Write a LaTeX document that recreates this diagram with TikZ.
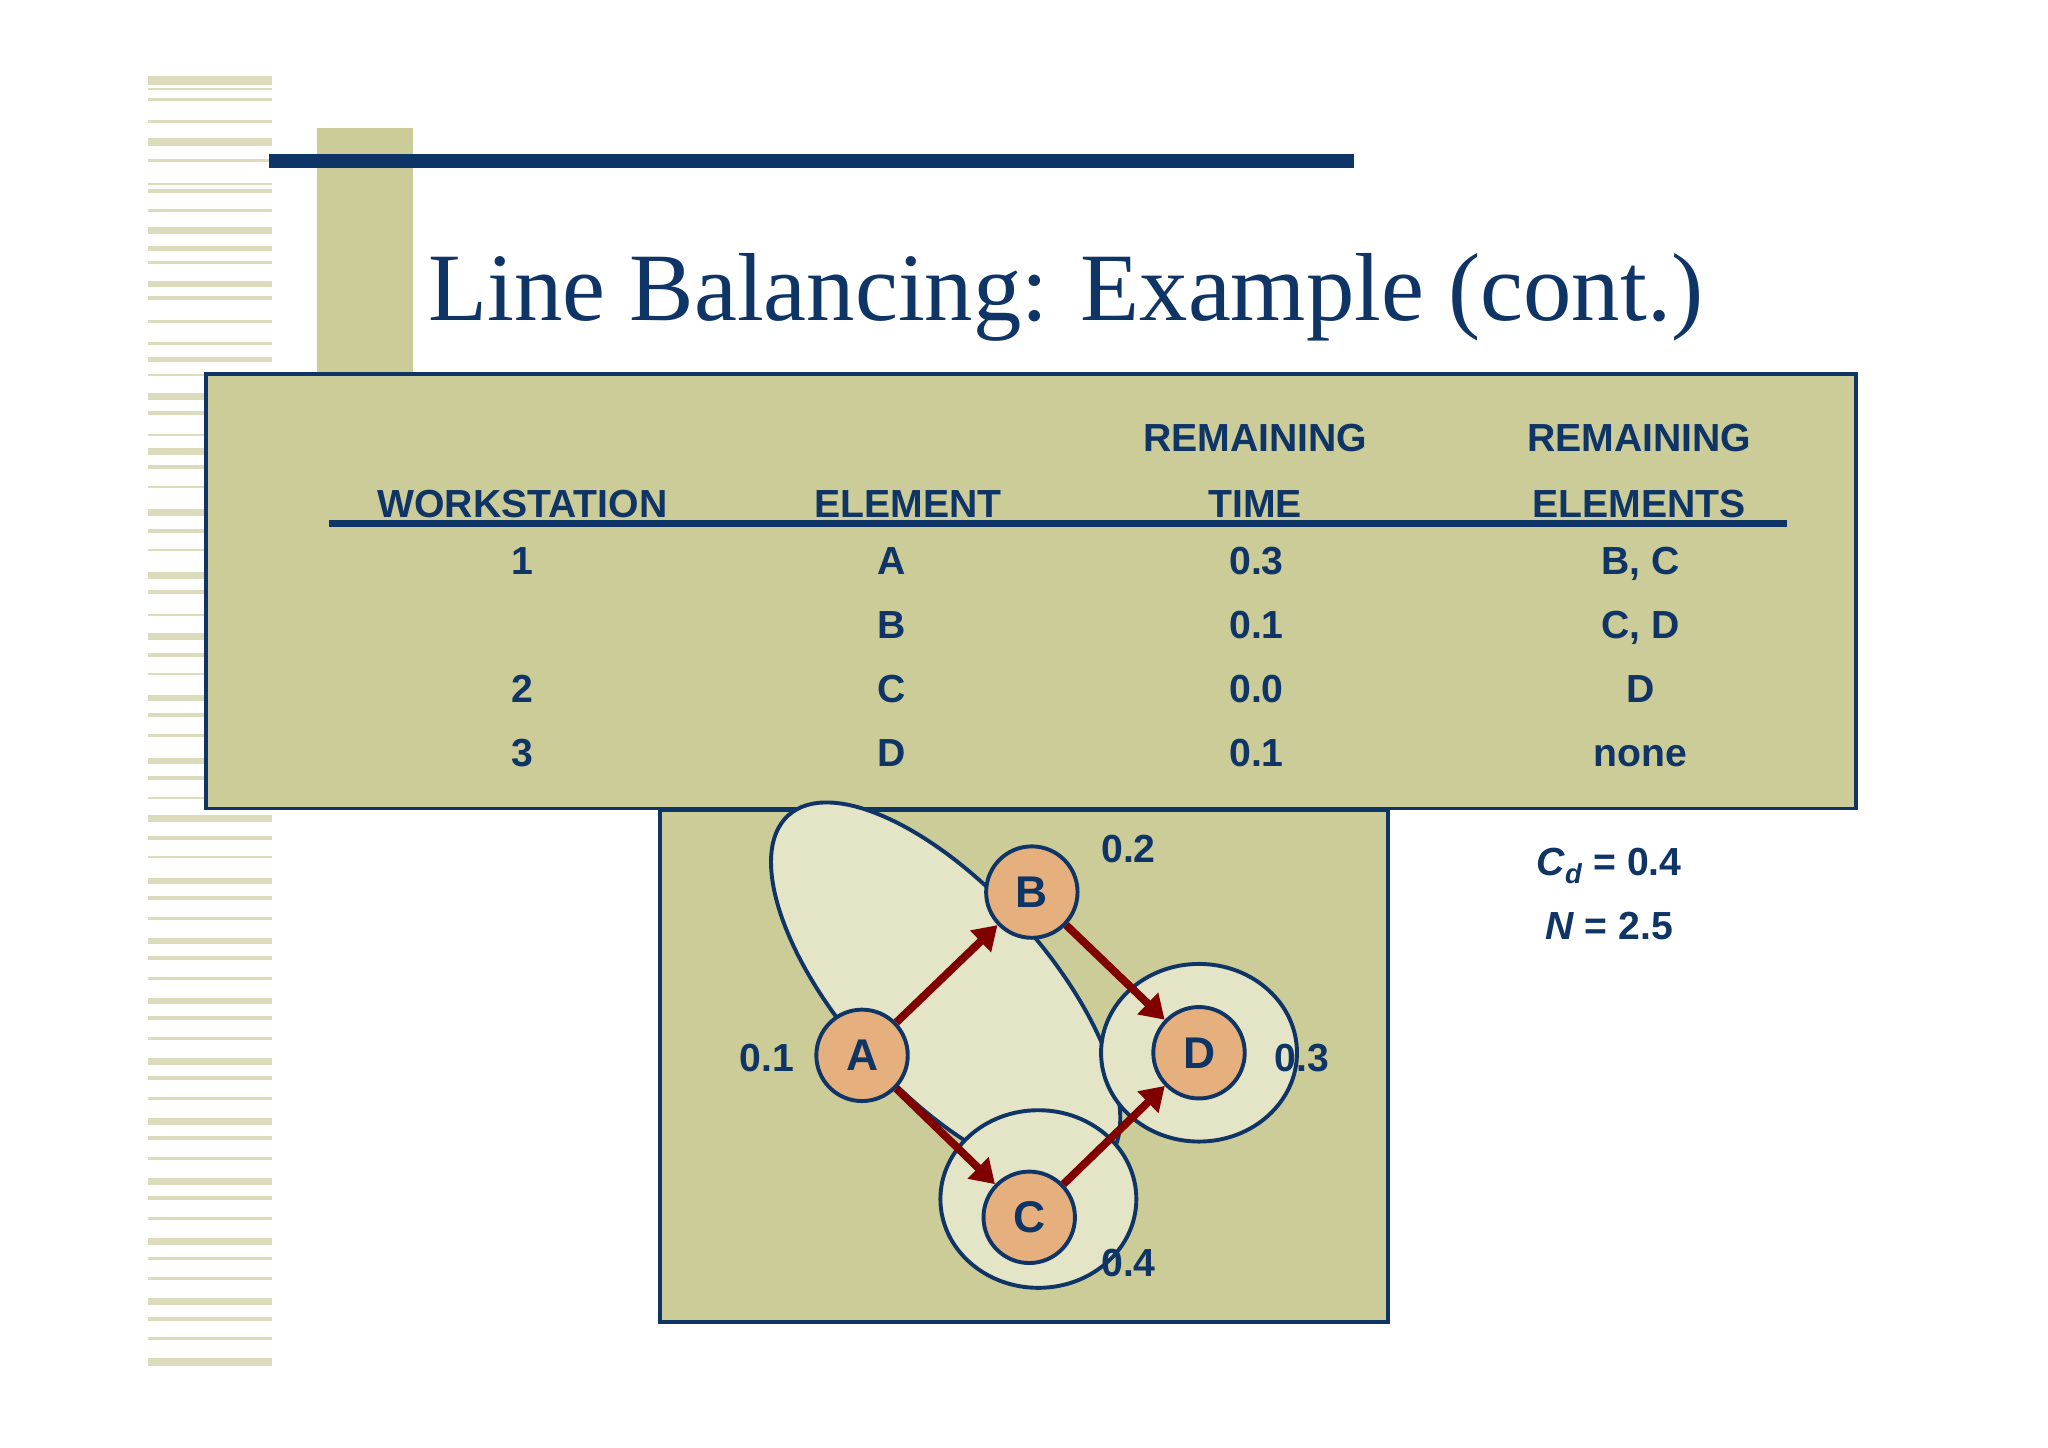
\documentclass[tikz,border=0pt]{standalone}
\usepackage{fontspec}
\setmainfont{Liberation Sans}
\newfontfamily\ttlfont{Liberation Serif}
\usetikzlibrary{arrows.meta}
\definecolor{navy}{HTML}{0F3466}
\definecolor{olive}{HTML}{CCCC99}
\definecolor{stripe}{HTML}{DCDCBC}
\definecolor{lightel}{HTML}{E4E4C6}
\definecolor{orng}{HTML}{E6B07E}
\definecolor{dred}{HTML}{800000}
\tikzset{
 tx/.style={text=navy,font=\fontsize{30}{32}\selectfont\bfseries,inner sep=0pt,anchor=base},
 vert/.style={circle,draw=navy,line width=3pt,fill=orng,minimum size=70pt,inner sep=0pt,text=navy,font=\fontsize{34}{36}\selectfont\bfseries},
 grp/.style={draw=navy,line width=3pt,fill=lightel},
 arr/.style={dred,line width=6pt,-{Triangle[length=18pt,width=22pt]}}
}
\begin{document}
\begin{tikzpicture}[x=1pt,y=-1pt]
\useasboundingbox[fill=white] (0,0) rectangle (1568,1108);
% stripes
\foreach \y/\h in {58/7,67/2,75/2,92/2,106/6,122/2,140/2,145/3,160/2,174/5,188/4,200/2,215/5,227/3,245/2,262/2,273/4,286/2,301/5,315/3,332/2,343/5,356/3,372/2,390/5,405/3,420/2,438/5,452/3,470/2,485/5,500/3,515/2,532/5,546/3,562/2,580/5,594/3,610/2,624/5,640/3,655/2,672/5,686/3,702/2,718/5,732/3,748/2,764/5,778/3,794/2,810/5,824/3,840/2,856/5,870/3,886/2,902/5,916/3,932/2,948/5,962/3,978/2,994/5,1008/3,1024/2,1040/6}
  \fill[stripe] (113,\y) rectangle (208,\y+\h);
\fill[olive] (243,98) rectangle (316,300);
\fill[navy] (206,118) rectangle (1037,129);
\node[text=navy,font=\ttlfont\fontsize{74}{80}\selectfont,anchor=base] (title) at (816,245) {Line Balancing: Example (cont.)};
% table
\node[draw=navy,line width=3pt,fill=olive,minimum width=1263pt,minimum height=333pt,inner sep=0pt] (tbl) at (789.5,452.5) {};
\node[tx] (h1) at (400,396) {WORKSTATION};
\node[tx] (h2) at (695,396) {ELEMENT};
\node[tx] (h3a) at (961,346) {REMAINING};
\node[tx] (h3b) at (961,396) {TIME};
\node[tx] (h4a) at (1255,346) {REMAINING};
\node[tx] (h4b) at (1255,396) {ELEMENTS};
\draw[navy,line width=5pt] (252,401) -- (1368,401);
\foreach \r/\a/\b/\c/\d in {440/1/A/0.3/{B, C},489//B/0.1/{C, D},538/2/C/0.0/D,587/3/D/0.1/none}{
 \node[tx] at (400,\r) {\a};
 \node[tx] at (683,\r) {\b};
 \node[tx] at (962,\r) {\c};
 \node[tx] at (1256,\r) {\d};
}
% graph box
\node[draw=navy,line width=3pt,fill=olive,minimum width=558pt,minimum height=392pt,inner sep=0pt] (gbox) at (784,816) {};
\draw[grp,rotate around={-48:(724,758)}] (724,758) ellipse (180 and 78);
\draw[grp] (795,918) ellipse (75 and 68);
\draw[grp] (918,806) ellipse (75 and 68);
\node[vert] (A) at (660,808) {A};
\node[vert] (B) at (790,683) {B};
\node[vert] (C) at (788,932) {C};
\node[vert] (D) at (918,806) {D};
\draw[arr] (A) -- (B);
\draw[arr] (A) -- (C);
\draw[arr] (B) -- (D);
\draw[arr] (C) -- (D);
\node[tx] (l2) at (864,660) {0.2};
\node[tx] (l1) at (587,820) {0.1};
\node[tx] (l3) at (997,820) {0.3};
\node[tx] (l4) at (864,977) {0.4};
\node[tx,font=\fontsize{30}{32}\selectfont\bfseries\itshape] (cd) at (1232,670) {C\textsubscript{d}\upshape{} = 0.4};
\node[tx,font=\fontsize{30}{32}\selectfont\bfseries\itshape] (nn) at (1232,719) {N\upshape{} = 2.5};
\end{tikzpicture}
\end{document}
